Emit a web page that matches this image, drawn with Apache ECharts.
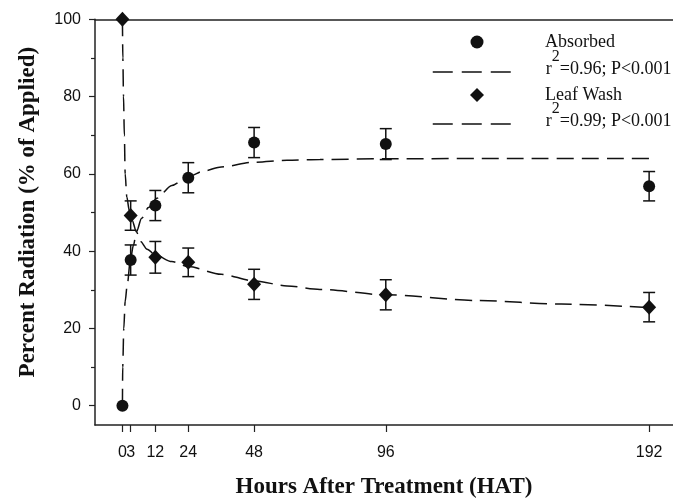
<!DOCTYPE html>
<html>
<head>
<meta charset="utf-8">
<script src="https://cdn.jsdelivr.net/npm/echarts@6/dist/echarts.min.js"></script>
<style>html,body{margin:0;padding:0;background:#fff}#c{width:673px;height:498px}</style>
</head>
<body>
<div id="c"></div>
<script>
// ---- data ----
const hours = [0, 3, 12, 24, 48, 96, 192];
const absorbed = [0, 37.7, 51.8, 59.0, 68.1, 67.7, 56.8];
const absorbedErr = [0, 3.9, 3.9, 3.9, 3.9, 4.0, 3.8];
const leafWash = [100, 49.2, 38.4, 37.1, 31.4, 28.7, 25.5];
const leafWashErr = [0, 3.8, 4.1, 3.7, 3.9, 3.9, 3.8];

// fitted curves
const absFitX = [0, 0.1, 0.5, 1.0, 1.7, 2.9, 4.0, 5.1, 7, 9.5, 12.6, 18, 24, 30, 36, 48, 60, 72, 96, 144, 192];
const absFitY = [0, 10, 20, 27, 31, 37.7, 41.5, 45, 48.5, 51.3, 53.7, 57, 59.3, 60.8, 61.8, 63.0, 63.5, 63.7, 63.9, 64.0, 64.0];
const washFitX = [0, 0.15, 0.4, 0.7, 1.0, 1.6, 2.5, 3.5, 5.1, 6.6, 9, 12, 18, 24, 36, 48, 60, 72, 96, 130, 160, 192];
const washFitY = [100, 90, 80, 70, 60, 54, 50.5, 48, 45, 42.5, 40.5, 39, 37.3, 36.0, 34.0, 32.3, 31.0, 30.1, 28.7, 27.2, 26.3, 25.4];

const xTicks = [0, 3, 12, 24, 48, 96, 192];
const yTicks = [0, 20, 40, 60, 80, 100];
const yMinorTicks = [10, 30, 50, 70, 90];

const absLabel = 'Absorbed';
const washLabel = 'Leaf Wash';
const absFitName = 'fitAbs';
const washFitName = 'fitWash';
const absFitText = ['r', '2', '=0.96; P<0.001'];
const washFitText = ['r', '2', '=0.99; P<0.001'];
const xTitle = 'Hours After Treatment (HAT)';
const yTitle = 'Percent Radiation (% of Applied)';

// ---- build ----
const ink = '#111';
const axisInk = '#222';
const pairs = (xs, ys) => xs.map((x, i) => [x, ys[i]]);
const errData = (vals, errs) => hours.map((h, i) => [h, vals[i] - errs[i], vals[i] + errs[i], errs[i]]).filter(d => d[3] > 0);
// labels alternate between two overlaid axes so the touching "0" and "3" both stay visible
const xLabelsA = xTicks.filter((_, i) => i % 2 === 0);
const xLabelsB = xTicks.filter((_, i) => i % 2 === 1);

function errRender(params, api) {
  const x = api.value(0), lo = api.value(1), hi = api.value(2);
  const t = api.coord([x, hi]), b = api.coord([x, lo]);
  const hw = 6;
  const st = {stroke: ink, lineWidth: 1.5};
  return {type: 'group', children: [
    {type: 'line', shape: {x1: t[0], y1: t[1], x2: b[0], y2: b[1]}, style: st},
    {type: 'line', shape: {x1: t[0] - hw, y1: t[1], x2: t[0] + hw, y2: t[1]}, style: st},
    {type: 'line', shape: {x1: b[0] - hw, y1: b[1], x2: b[0] + hw, y2: b[1]}, style: st}
  ]};
}

const dash = [17, 8];
const serif = 'Liberation Serif';
const sans = 'Liberation Sans';
const legendRich = {
  r: {fontFamily: serif, fontSize: 18, color: ink, lineHeight: 20, verticalAlign: 'bottom'},
  s: {fontFamily: serif, fontSize: 16, color: ink, lineHeight: 16, verticalAlign: 'bottom', padding: [0, 0, 14, 0]}
};
function fitFormatter(parts) {
  return '{r|' + parts[0] + '}{s|' + parts[1] + '}{r|' + parts[2] + '}';
}
function symbolLegend(name, top, size) {
  return {
    data: [name], left: 477 - size / 2, top: top, padding: 0,
    itemWidth: size, itemHeight: size, selectedMode: false, symbolKeepAspect: true,
    textStyle: {fontFamily: serif, fontSize: 18, color: ink, lineHeight: 20, padding: [0, 0, 0, 545 - (477 + size / 2) - 5]}
  };
}
function lineLegend(name, top, parts) {
  return {
    data: [name], left: 432, top: top, padding: 0,
    itemWidth: 80, itemHeight: 12, selectedMode: false,
    itemStyle: {opacity: 0, borderWidth: 0},
    lineStyle: {type: [20, 9], width: 1.5, color: ink},
    formatter: () => fitFormatter(parts),
    textStyle: {fontFamily: serif, fontSize: 18, color: ink, padding: [0, 0, 7, 28], rich: legendRich}
  };
}

const labelStyle = {margin: 20, fontFamily: sans, fontSize: 16, color: ink, hideOverlap: false};

const option = {
  animation: false,
  backgroundColor: '#fff',
  grid: {left: 95, right: 0, top: 19.3, bottom: 73, containLabel: false, outerBoundsMode: 'none'},
  legend: [
    symbolLegend(absLabel, 32, 13),
    lineLegend(absFitName, 48.5, absFitText),
    symbolLegend(washLabel, 85, 14),
    lineLegend(washFitName, 100.5, washFitText)
  ],
  xAxis: [{
    type: 'value', min: -10, max: 200.7, position: 'bottom',
    name: xTitle, nameLocation: 'middle', nameGap: 51,
    nameTextStyle: {fontFamily: serif, fontWeight: 'bold', fontSize: 23, color: ink},
    axisLine: {show: true, onZero: false, lineStyle: {color: axisInk, width: 1.5}},
    axisTick: {show: true, length: 7, customValues: xTicks, lineStyle: {color: axisInk, width: 1.2}},
    axisLabel: Object.assign({customValues: xLabelsA}, labelStyle),
    splitLine: {show: false}
  }, {
    type: 'value', min: -10, max: 200.7, position: 'top',
    axisLine: {show: true, onZero: false, lineStyle: {color: axisInk, width: 1.5}},
    axisTick: {show: false}, axisLabel: {show: false}, splitLine: {show: false}
  }, {
    type: 'value', min: -10, max: 200.7, position: 'bottom',
    axisLine: {show: false, onZero: false},
    axisTick: {show: false},
    axisLabel: Object.assign({customValues: xLabelsB}, labelStyle),
    splitLine: {show: false}
  }],
  yAxis: [{
    type: 'value', min: -5, max: 100, position: 'left',
    name: yTitle, nameLocation: 'middle', nameGap: 55,
    nameTextStyle: {fontFamily: serif, fontWeight: 'bold', fontSize: 23, color: ink, padding: [0, 0, 0, 20]},
    axisLine: {show: true, onZero: false, lineStyle: {color: axisInk, width: 1.5}},
    axisTick: {show: true, length: 6, customValues: yTicks, lineStyle: {color: axisInk, width: 1.2}},
    axisLabel: {customValues: yTicks, margin: 14, fontFamily: sans, fontSize: 16, color: ink},
    splitLine: {show: false}
  }, {
    type: 'value', min: -5, max: 100, position: 'left',
    axisLine: {show: false, onZero: false},
    axisTick: {show: true, length: 4, customValues: yMinorTicks, lineStyle: {color: axisInk, width: 1.2}},
    axisLabel: {show: false}, splitLine: {show: false}
  }],
  series: [
    {name: absFitName, type: 'line', data: pairs(absFitX, absFitY), showSymbol: false, symbol: 'none',
     smooth: 0.3, smoothMonotone: 'x', lineStyle: {color: ink, width: 1.5, type: dash}, itemStyle: {color: ink}, z: 2},
    {name: washFitName, type: 'line', data: pairs(washFitX, washFitY), showSymbol: false, symbol: 'none',
     smooth: 0.3, smoothMonotone: 'x', lineStyle: {color: ink, width: 1.5, type: dash}, itemStyle: {color: ink}, z: 2},
    {name: 'errAbs', type: 'custom', renderItem: errRender, data: errData(absorbed, absorbedErr), z: 3, silent: true},
    {name: 'errWash', type: 'custom', renderItem: errRender, data: errData(leafWash, leafWashErr), z: 3, silent: true},
    {name: absLabel, type: 'scatter', data: pairs(hours, absorbed), symbol: 'circle', symbolSize: 12,
     itemStyle: {color: ink, opacity: 1}, z: 4},
    {name: washLabel, type: 'scatter', data: pairs(hours, leafWash), symbol: 'diamond', symbolSize: [14, 15],
     itemStyle: {color: ink, opacity: 1}, z: 4}
  ]
};

const chart = echarts.init(document.getElementById('c'), null, {renderer: 'canvas'});
chart.setOption(option);
</script>
</body>
</html>
